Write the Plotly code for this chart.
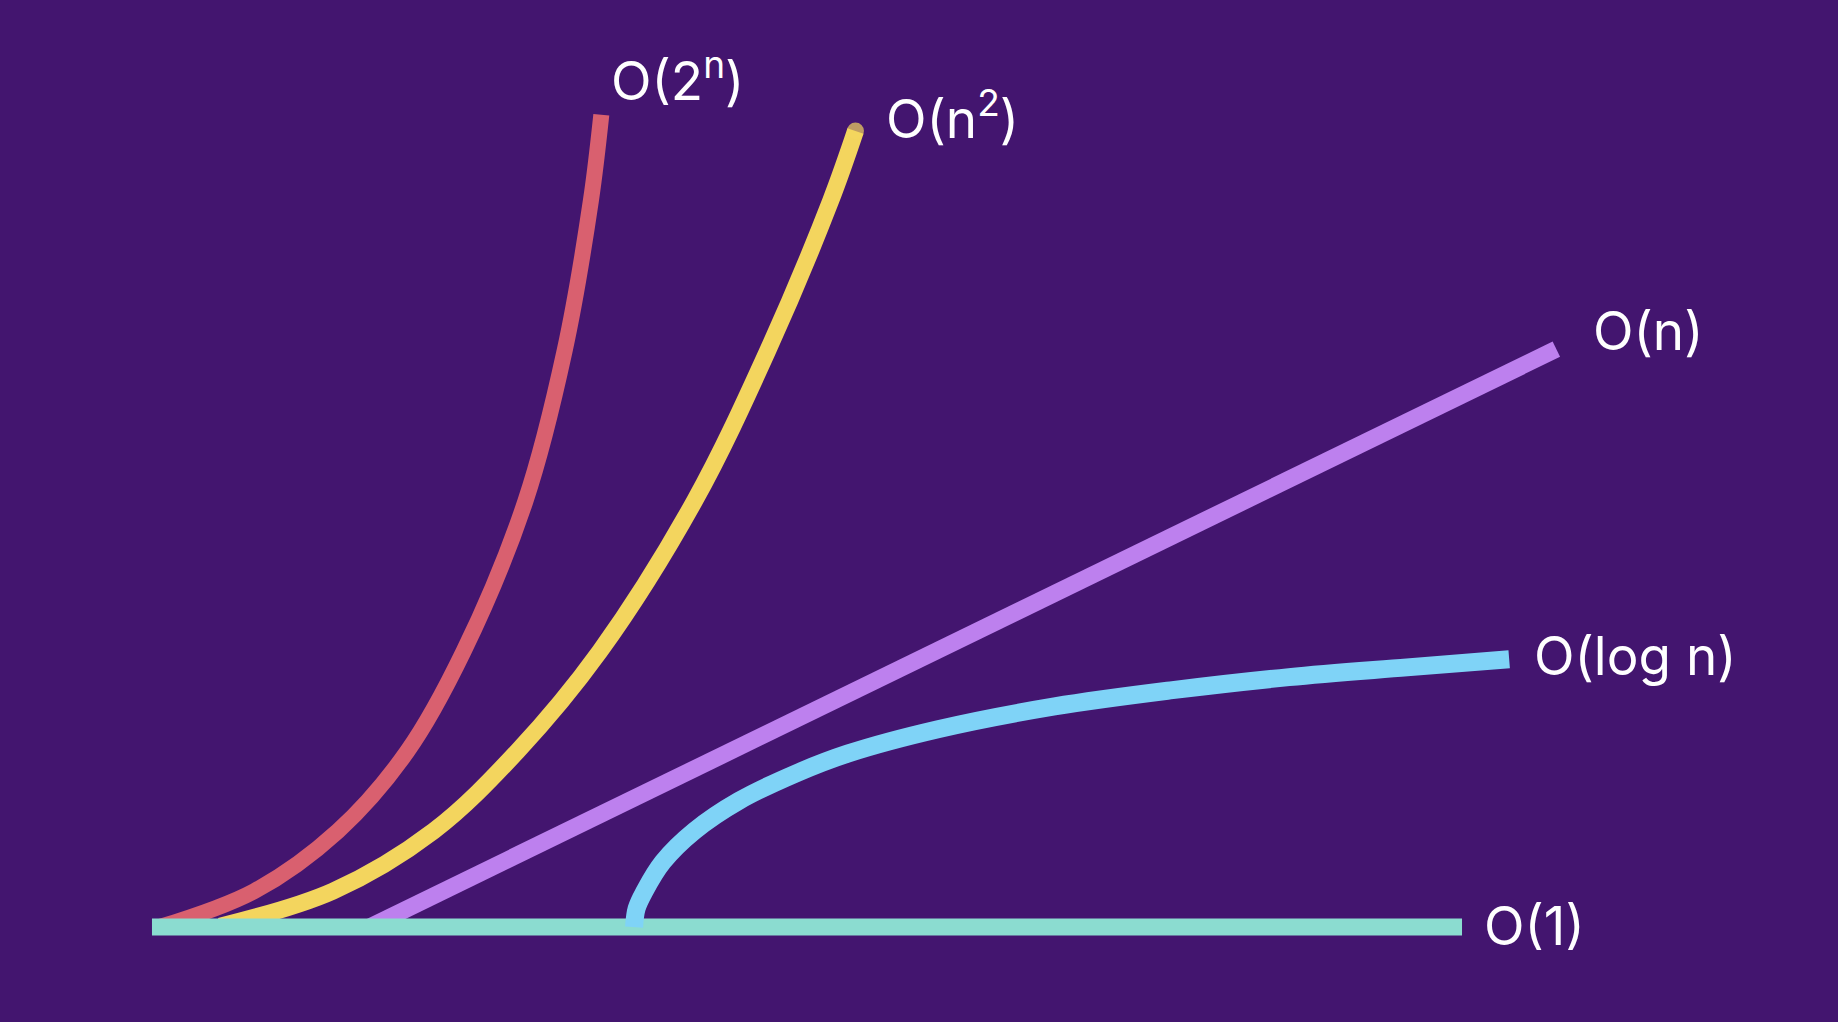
import plotly.graph_objects as go

# Input size n (0..100 along the baseline) vs. relative running time (0..100)
exp_n = [0.6, 7.8, 14.2, 19.5, 23.8, 28.5, 31.5, 33.5, 34.3]
exp_t = [0.0, 4.4, 11.8, 21.6, 33.9, 52.3, 70.8, 89.2, 99.8]

quad_n = [5.2, 13.8, 21.5, 27.9, 34.2, 41.4, 47.0, 51.8, 53.7]
quad_t = [0.1, 4.4, 11.8, 21.6, 33.9, 52.3, 70.8, 89.2, 97.8]

lin_n = [16.6, 107.2]
lin_t = [0.0, 71.0]

log_n = [36.8, 37.0, 37.6, 39.0, 41.4, 44.8, 49.2, 53.1, 60.0, 68.9, 77.9, 86.8, 95.8, 103.6]
log_t = [0.0, 2.3, 4.4, 8.0, 11.8, 15.5, 18.9, 21.3, 24.3, 27.1, 29.1, 30.7, 31.9, 32.9]

const_n = [0.0, 100.0]
const_t = [0.0, 0.0]

labels = ["O(2<sup>n</sup>)", "O(n<sup>2</sup>)", "O(n)", "O(log n)", "O(1)"]

BG = "#43156F"
RED = "#D9606F"
YELLOW = "#F3D55E"
PURPLE = "#BD80EE"
BLUE = "#7FD3F7"
TEAL = "#8BDCD0"

fig = go.Figure()
fig.add_trace(go.Scatter(x=exp_n, y=exp_t, mode="lines", line=dict(color=RED, width=16, shape="spline")))
fig.add_trace(go.Scatter(x=quad_n, y=quad_t, mode="lines+markers",
                         line=dict(color=YELLOW, width=17, shape="spline"),
                         marker=dict(color=YELLOW, size=[0] * (len(quad_n) - 1) + [17], line=dict(width=0))))
fig.add_trace(go.Scatter(x=lin_n, y=lin_t, mode="lines", line=dict(color=PURPLE, width=17)))
fig.add_trace(go.Scatter(x=const_n, y=const_t, mode="lines", line=dict(color=TEAL, width=17)))
fig.add_trace(go.Scatter(x=log_n, y=log_t, mode="lines", line=dict(color=BLUE, width=18, shape="spline")))

font = dict(family="Inter, Lato, sans-serif", size=53, color="white")
ends = [(exp_n[-1], exp_t[-1], 8, 37), (quad_n[-1], quad_t[-1], 29, 16),
        (lin_n[-1], lin_t[-1], 35, 18), (log_n[-1], log_t[-1], 23, 3),
        (const_n[-1], const_t[-1], 20, 1)]
for lab, (x, y, dx, dy) in zip(labels, ends):
    fig.add_annotation(x=x, y=y, text=lab, showarrow=False, xanchor="left", yanchor="middle",
                       xshift=dx, yshift=dy, font=font)

fig.update_layout(
    width=1838, height=1022, margin=dict(l=0, r=0, t=0, b=0),
    paper_bgcolor=BG, plot_bgcolor=BG, showlegend=False,
    xaxis=dict(range=[-11.6, 128.7], visible=False),
    yaxis=dict(range=[-11.67, 113.9], visible=False),
)

fig.write_html("out.html", config={"displayModeBar": False},
               post_script="document.body.style.margin='0';document.body.style.background='%s';" % BG)
